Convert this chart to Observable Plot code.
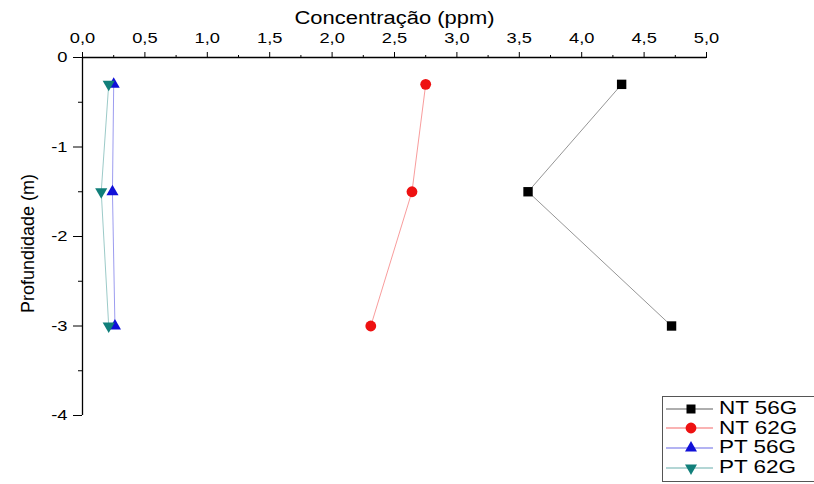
<!DOCTYPE html>
<html>
<head>
<meta charset="utf-8">
<script src="https://cdn.jsdelivr.net/npm/d3@7"></script>
<script src="https://cdn.jsdelivr.net/npm/@observablehq/plot@0.6"></script>
<style>
  body { margin: 0; background: #fff; }
  #wrap { position: relative; width: 814px; height: 484px; font-family: "Liberation Sans", Arial, sans-serif; }
  #legend { position: absolute; left: 662px; top: 396px; width: 152px; height: 86px; border: 1px solid #555; border-right: none; background: #fff; box-sizing: border-box; padding-top: 2px; }
  #legend .row { display: flex; align-items: center; height: 19.6px; }
  #legend .row svg { flex: none; }
  #legend .row span { font-size: 18px; color: #000; margin-left: 4px; display: inline-block; transform: scaleX(1.25); transform-origin: left center; white-space: nowrap; }
</style>
</head>
<body>
<div id="wrap"><div id="legend"></div></div>
<script>
const seriesNames = ["NT 56G", "NT 62G", "PT 56G", "PT 62G"];
const seriesColors = ["#000000", "#ee1111", "#1010d8", "#117f7a"];
const depths = [-0.3, -1.5, -3.0];
const nt56 = [4.32, 3.57, 4.72];
const nt62 = [2.75, 2.64, 2.31];
const pt56 = [0.25, 0.24, 0.26];
const pt62 = [0.21, 0.15, 0.21];
const xMajor = [0, 0.5, 1, 1.5, 2, 2.5, 3, 3.5, 4, 4.5, 5];
const xMinor = [0.25, 0.75, 1.25, 1.75, 2.25, 2.75, 3.25, 3.75, 4.25, 4.75];
const yMajor = [0, -1, -2, -3, -4];
const yMinor = [-0.5, -1.5, -2.5, -3.5];

const symbols = ["square", "circle", "triangle", "triangle"];
const rotations = [0, 0, 0, 180];
const radii = [5.3, 5.4, 4.5, 4.5];
const values = [nt56, nt62, pt56, pt62];
const data = [];
seriesNames.forEach((s, i) => values[i].forEach((v, j) => data.push({series: s, x: v, y: depths[j], idx: i})));

const fmtX = d => d.toFixed(1).replace(".", ",");
const font = "Liberation Sans, Arial, sans-serif";

const chart = Plot.plot({
  width: 814, height: 484,
  marginLeft: 82, marginRight: 108, marginTop: 57, marginBottom: 69,
  style: {fontFamily: font, fontSize: "15px", color: "#000", background: "transparent"},
  x: {domain: [0, 5]},
  y: {domain: [-4, 0]},
  marks: [
    Plot.axisX(xMajor, {anchor: "top", tickSize: 6, tickPadding: 9, tickFormat: fmtX, label: null, fontSize: 15}),
    Plot.axisX(xMinor, {anchor: "top", tickSize: 3, tickFormat: () => "", label: null}),
    Plot.axisY(yMajor, {anchor: "left", tickSize: 9, tickPadding: 6, tickFormat: d => String(d), label: null, fontSize: 15}),
    Plot.axisY(yMinor, {anchor: "left", tickSize: 4, tickFormat: () => "", label: null}),
    Plot.ruleY([0], {x1: 0, x2: 5, stroke: "#000", strokeWidth: 1.3}),
    Plot.ruleX([0], {y1: -4, y2: 0, stroke: "#000", strokeWidth: 1.3}),
    ...seriesNames.map((s, i) => Plot.line(data.filter(d => d.idx === i), {x: "x", y: "y", stroke: seriesColors[i], strokeWidth: 0.6, strokeOpacity: 0.7})),
    ...seriesNames.map((s, i) => Plot.dot(data.filter(d => d.idx === i), {x: "x", y: "y", fill: seriesColors[i], stroke: "none", symbol: symbols[i], rotate: rotations[i], r: radii[i]})),
    Plot.text(["Concentração (ppm)"], {frameAnchor: "top", lineAnchor: "bottom", textAnchor: "middle", dy: -34, fontSize: 18, text: d => d}),
    Plot.text(["Profundidade (m)"], {frameAnchor: "left", textAnchor: "middle", dx: -54, dy: 7, rotate: -90, fontSize: 18, text: d => d})
  ]
});
chart.style.position = "absolute";
chart.style.left = "0px";
chart.style.top = "0px";
const wrap = document.getElementById("wrap");
wrap.insertBefore(chart, wrap.firstChild);

// the reference image is horizontally stretched: widen horizontal texts accordingly
d3.select(chart).selectAll("text").each(function() {
  const t = this.textContent;
  if (!t || t === "Profundidade (m)") return;
  if (t !== "Concentração (ppm)") this.style.fontSize = "15px";
  const len = this.getComputedTextLength();
  if (len > 0) {
    this.setAttribute("textLength", (len * 1.22).toFixed(1));
    this.setAttribute("lengthAdjust", "spacingAndGlyphs");
  }
});

const legend = d3.select("#legend");
const legendSyms = [[d3.symbolSquare, 81], [d3.symbolCircle, 92], [d3.symbolTriangle, 62], [d3.symbolTriangle, 62]];
seriesNames.forEach((s, i) => {
  const row = legend.append("div").attr("class", "row");
  const svg = row.append("svg").attr("width", 52).attr("height", 18);
  svg.append("line").attr("x1", 3).attr("x2", 50).attr("y1", 9).attr("y2", 9).attr("stroke", seriesColors[i]).attr("stroke-width", 0.8).attr("stroke-opacity", 0.8);
  svg.append("path").attr("d", d3.symbol(legendSyms[i][0], legendSyms[i][1])()).attr("fill", seriesColors[i])
    .attr("transform", `translate(28,9) rotate(${rotations[i]})`);
  row.append("span").text(s);
});
</script>
</body>
</html>
